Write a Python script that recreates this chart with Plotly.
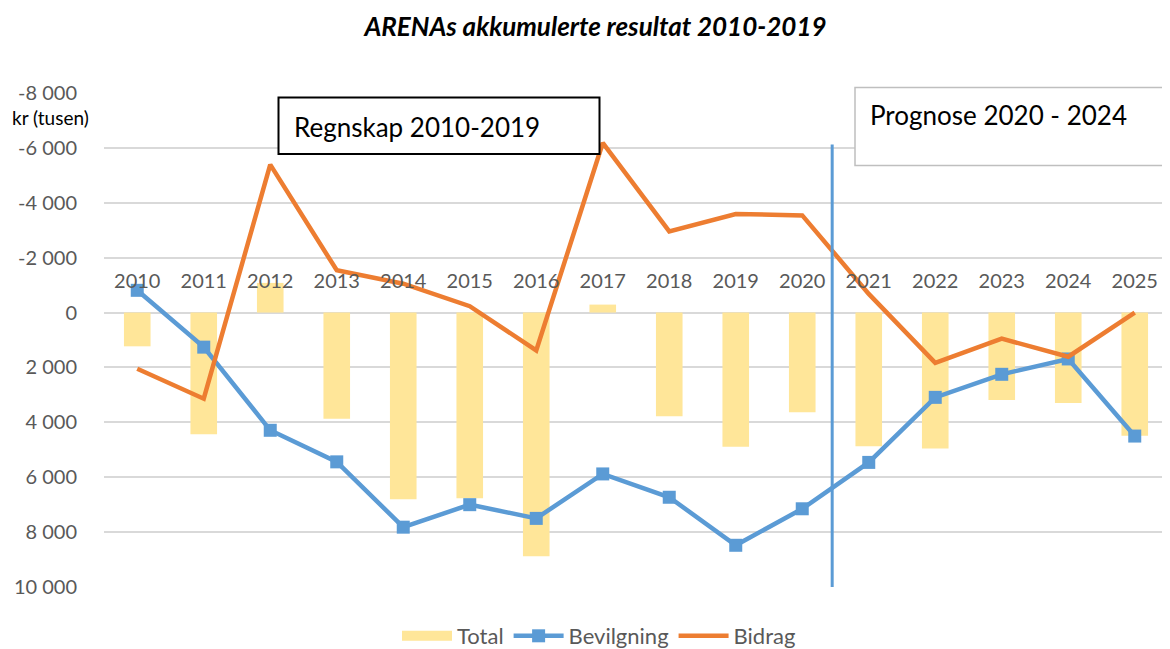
import plotly.graph_objects as go

years = [str(y) for y in range(2010, 2026)]
total = [1230, 4430, -1080, 3870, 6800, 6770, 8880, -290, 3780, 4890, 3630, 4870, 4950, 3190, 3300, 4490]
bevilgning = [-810, 1260, 4290, 5440, 7820, 7000, 7500, 5880, 6730, 8480, 7150, 5460, 3090, 2250, 1690, 4500]
bidrag = [2050, 3140, -5390, -1540, -1050, -230, 1380, -6180, -2960, -3590, -3540, -680, 1830, 950, 1610, 0]
y_ticks = [-8000, -6000, -4000, -2000, 0, 2000, 4000, 6000, 8000, 10000]
y_tick_text = ["-8 000", "-6 000", "-4 000", "-2 000", "0", "2 000", "4 000", "6 000", "8 000", "10 000"]

FONT = "Lato"
GRAY = "#595959"

# the page body adds an 8 px offset; geometry below is in screen pixels
OFF = 8
W, H = 1170 - OFF, 649 - OFF
ML, MR, MT, MB = 104 - OFF, 2, 93 - OFF, 62
PW, PH = W - ML - MR, H - MT - MB

def px(xs):
    return (xs - OFF - ML) / PW

def py(ys):
    return (H - MB - (ys - OFF)) / PH

fig = go.Figure()
fig.add_trace(go.Bar(x=years, y=total, name="Total", marker_color="#FFE699",
                     marker_line_width=0, width=0.4, showlegend=False, legendgroup="total"))
# legend entry for Total drawn as a wide swatch
fig.add_trace(go.Scatter(x=[None], y=[None], name="Total", mode="lines", legendgroup="total",
                         line=dict(color="#FFE699", width=13)))
fig.add_trace(go.Scatter(x=years, y=bevilgning, name="Bevilgning", mode="lines+markers",
                         line=dict(color="#5B9BD5", width=4.5),
                         marker=dict(symbol="square", size=13, color="#5B9BD5")))
fig.add_trace(go.Scatter(x=years, y=bidrag, name="Bidrag", mode="lines",
                         line=dict(color="#ED7D31", width=4.5)))

# vertical divider between regnskap and prognose
fig.add_shape(type="line", xref="x", yref="y", x0=10.45, x1=10.45, y0=-6120, y1=10000,
              line=dict(color="#5B9BD5", width=3), layer="above")

# text boxes
fig.add_shape(type="rect", xref="paper", yref="paper",
              x0=px(278.5), x1=px(599.5), y0=py(154), y1=py(97.5),
              line=dict(color="black", width=2), fillcolor="white", layer="above")
fig.add_annotation(xref="paper", yref="paper", x=px(292), y=py(127), xanchor="left",
                   yanchor="middle", text="Regnskap 2010-2019", showarrow=False,
                   font=dict(family=FONT, size=26, color="black"))
fig.add_shape(type="rect", xref="paper", yref="paper",
              x0=px(855), x1=px(1190), y0=py(165.5), y1=py(87.5),
              line=dict(color="#BFBFBF", width=1.5), fillcolor="white", layer="above")
fig.add_annotation(xref="paper", yref="paper", x=px(868), y=py(115), xanchor="left",
                   yanchor="middle", text="Prognose 2020 - 2024", showarrow=False,
                   font=dict(family=FONT, size=26, color="black"))

fig.add_annotation(xref="paper", yref="paper", x=px(10), y=py(118), xanchor="left",
                   yanchor="middle", text="kr (tusen)", showarrow=False,
                   font=dict(family=FONT, size=19, color="black"))

fig.update_layout(
    width=W, height=H,
    margin=dict(l=ML, r=MR, t=MT, b=MB, autoexpand=False),
    paper_bgcolor="white", plot_bgcolor="white",
    title=dict(text="<b><i>ARENAs akkumulerte resultat 2010-2019</i></b>",
               x=(595.5 - OFF) / W, xanchor="center", y=1 - (27 - OFF) / H, yanchor="middle",
               font=dict(family=FONT, size=26, color="black")),
    font=dict(family=FONT, color=GRAY),
    showlegend=True,
    legend=dict(orientation="h", x=px(599), xanchor="center", y=py(636), yanchor="middle",
                font=dict(family=FONT, size=22, color=GRAY), traceorder="normal",
                itemwidth=50),
    bargap=0.6,
)
fig.update_xaxes(type="category", side="top", anchor="free", position=py(313),
                 showgrid=False, showline=False, ticks="", ticklabelstandoff=21,
                 tickfont=dict(family=FONT, size=20, color=GRAY), zeroline=False,
                 range=[-0.5, 15.5], automargin=False)
fig.update_yaxes(range=[10000, -8000], tickvals=y_ticks, ticktext=y_tick_text,
                 showgrid=True, gridcolor="#D9D9D9", gridwidth=1.5, zeroline=False,
                 showline=False, ticks="", ticklabelstandoff=26, automargin=False,
                 tickfont=dict(family=FONT, size=20, color=GRAY))

fig.write_html("out.html")
